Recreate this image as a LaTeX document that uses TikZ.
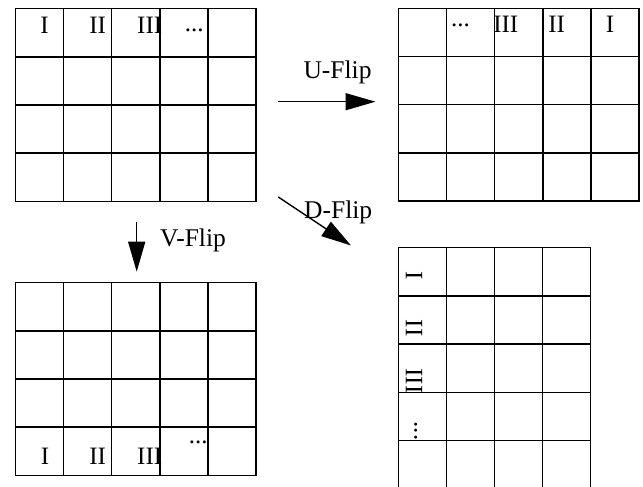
\documentclass[tikz,border=0pt]{standalone}
\usepackage{fontspec}
\setmainfont{Liberation Serif}
\usetikzlibrary{arrows.meta}
\newcommand\flipgrid[5]{%
  \foreach \i in {0,...,#3} \draw[gridline] ({#1+\i*48.15},#2) -- ({#1+\i*48.15},{#2+#5});
  \foreach \j in {0,...,#4} \draw[gridline] (#1,{#2+\j*48.15}) -- ({#1+#3*48.15},{#2+\j*48.15});
}
\begin{document}
\begin{tikzpicture}[x=1pt,y=-1pt,
  gridline/.style={line width=1.5pt,line cap=rect},
  lbl/.style={inner sep=0pt,font=\fontsize{25}{30}\selectfont,anchor=base},
  flbl/.style={inner sep=0pt,font=\fontsize{25.5}{30}\selectfont,anchor=base west},
  fliparrow/.style={line width=1.4pt,-{Triangle[length=30pt,width=17pt]}}]
\useasboundingbox (0,0) rectangle (643,487);
\begin{scope}
\clip (0,0) rectangle (643,487);
% grid 1 (top-left)
\flipgrid{15.3}{8.7}{5}{4}{192.6}
% grid 2 (top-right)
\flipgrid{398.3}{8.3}{5}{4}{192.6}
% grid 3 (bottom-left)
\flipgrid{15.3}{282.7}{5}{4}{192.6}
% grid 4 (bottom-right), last row cut by the edge
\foreach \i in {0,...,4} \draw[gridline] ({398.7+\i*48.0},247.7) -- ({398.7+\i*48.0},490);
\foreach \j in {0,...,4} \draw[gridline] (398.7,{247.7+\j*48.2}) -- ({398.7+4*48.0},{247.7+\j*48.2});
\end{scope}
% labels grid 1
\node[lbl] (a1) at (44.6,33.3) {I};
\node[lbl] (a2) at (97.6,33.3) {II};
\node[lbl] (a3) at (149.7,33.3) {III};
\node[lbl] (a4) at (194.2,32) {...};
% labels grid 2
\node[lbl] (b4) at (460.5,27) {...};
\node[lbl] (b3) at (505.8,32.3) {III};
\node[lbl] (b2) at (556.6,32.3) {II};
\node[lbl] (b1) at (610,32.3) {I};
% labels grid 3
\node[lbl] (c1) at (45,464.3) {I};
\node[lbl] (c2) at (97.6,464.3) {II};
\node[lbl] (c3) at (149.7,464.3) {III};
\node[lbl] (c4) at (198.3,443) {...};
% labels grid 4 (rotated)
\node[lbl,anchor=center,rotate=-90] (d1) at (414,276) {I};
\node[lbl,anchor=center,rotate=-90] (d2) at (414,328) {II};
\node[lbl,anchor=center,rotate=-90] (d3) at (414,381) {III};
\node[lbl,anchor=center,rotate=-90] (d4) at (415.7,431) {...};
% arrows
\coordinate (us) at (278.3,101.7);
\coordinate (ue) at (375.5,101.7);
\coordinate (vs) at (136.7,221.7);
\coordinate (ve) at (136.7,271.7);
\coordinate (ds) at (278.3,197);
\coordinate (de) at (351,245.5);
\draw[fliparrow] (us) -- (ue);
\draw[fliparrow] (vs) -- (ve);
\draw[fliparrow] (ds) -- (de);
\node[flbl] (ul) at (303.3,78.3) {U-Flip};
\node[flbl] (vl) at (160,246.7) {V-Flip};
\node[flbl] (dl) at (304,218.3) {D-Flip};
\end{tikzpicture}
\end{document}
